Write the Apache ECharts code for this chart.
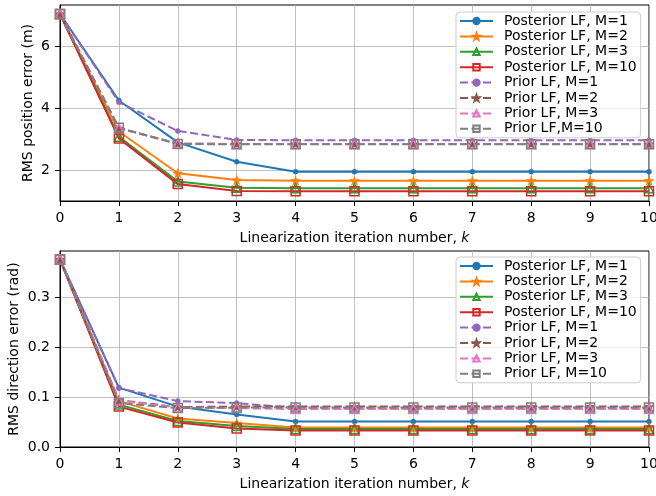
<!DOCTYPE html>
<html>
<head>
<meta charset="utf-8">
<script src="https://cdn.jsdelivr.net/npm/echarts@6/dist/echarts.min.js"></script>
<style>
  html, body { margin: 0; padding: 0; background: #fff; }
  #chart { width: 656px; height: 496px; }
</style>
</head>
<body>
<div id="chart"></div>
<script>
var iterK = [0, 1, 2, 3, 4, 5, 6, 7, 8, 9, 10];

// RMS position error (m)
var postM1Pos  = [7.03, 4.25, 2.90, 2.28, 1.96, 1.96, 1.96, 1.96, 1.96, 1.96, 1.96];
var postM2Pos  = [7.03, 3.25, 1.91, 1.69, 1.67, 1.67, 1.67, 1.67, 1.67, 1.67, 1.67];
var postM3Pos  = [7.03, 3.08, 1.64, 1.44, 1.43, 1.43, 1.43, 1.43, 1.43, 1.43, 1.43];
var postM10Pos = [7.03, 3.03, 1.56, 1.34, 1.33, 1.33, 1.33, 1.33, 1.33, 1.33, 1.33];
var priorM1Pos  = [7.03, 4.19, 3.27, 2.98, 2.97, 2.97, 2.97, 2.97, 2.97, 2.97, 2.97];
var priorM2Pos  = [7.03, 3.36, 2.86, 2.85, 2.85, 2.85, 2.85, 2.85, 2.85, 2.85, 2.85];
var priorM3Pos  = [7.03, 3.36, 2.86, 2.85, 2.85, 2.85, 2.85, 2.85, 2.85, 2.85, 2.85];
var priorM10Pos = [7.03, 3.37, 2.85, 2.84, 2.84, 2.84, 2.84, 2.84, 2.84, 2.84, 2.84];

// RMS direction error (rad)
var postM1Dir  = [0.376, 0.119, 0.081, 0.065, 0.051, 0.051, 0.051, 0.051, 0.051, 0.051, 0.051];
var postM2Dir  = [0.376, 0.092, 0.057, 0.048, 0.039, 0.039, 0.039, 0.039, 0.039, 0.039, 0.039];
var postM3Dir  = [0.376, 0.085, 0.052, 0.042, 0.036, 0.036, 0.036, 0.036, 0.036, 0.036, 0.036];
var postM10Dir = [0.376, 0.081, 0.049, 0.037, 0.033, 0.033, 0.033, 0.033, 0.033, 0.033, 0.033];
var priorM1Dir  = [0.376, 0.118, 0.092, 0.088, 0.078, 0.077, 0.077, 0.077, 0.077, 0.077, 0.077];
var priorM2Dir  = [0.376, 0.094, 0.080, 0.081, 0.081, 0.081, 0.081, 0.081, 0.081, 0.081, 0.081];
var priorM3Dir  = [0.376, 0.093, 0.079, 0.078, 0.076, 0.076, 0.076, 0.076, 0.076, 0.076, 0.076];
var priorM10Dir = [0.376, 0.088, 0.078, 0.079, 0.079, 0.079, 0.079, 0.079, 0.079, 0.079, 0.079];

var posTicks = [2, 4, 6];
var dirTicks = [0, 0.1, 0.2, 0.3];

var namesTop = ['Posterior LF, M=1', 'Posterior LF, M=2', 'Posterior LF, M=3', 'Posterior LF, M=10',
                'Prior LF, M=1', 'Prior LF, M=2', 'Prior LF, M=3', 'Prior LF,M=10'];
var namesBottom = ['Posterior LF, M=1', 'Posterior LF, M=2', 'Posterior LF, M=3', 'Posterior LF, M=10',
                   'Prior LF, M=1', 'Prior LF, M=2', 'Prior LF, M=3', 'Prior LF, M=10'];

var colors = ['#1f77b4', '#ff7f0e', '#2ca02c', '#d62728', '#9467bd', '#8c564b', '#e377c2', '#7f7f7f'];
var starPath = 'path://M0,-10 L2.35,-3.24 L9.51,-3.09 L3.8,1.24 L5.88,8.09 L0,4 L-5.88,8.09 L-3.8,1.24 L-9.51,-3.09 L-2.35,-3.24 Z';
// marker per series: [symbol, size, hollow]
var markers = [['circle', 5, false], [starPath, 10, false], ['triangle', 9, true], ['rect', 9, true],
               ['circle', 5, false], [starPath, 10, false], ['triangle', 9, true], ['rect', 9, true]];

var font = 'DejaVu Sans';
var fs = 14;

function makeSeries(names, dataList, axisIndex) {
    var out = [];
    for (var i = 0; i < dataList.length; i++) {
        var m = markers[i];
        var pts = [];
        for (var j = 0; j < iterK.length; j++) {
            pts.push([iterK[j], dataList[i][j]]);
        }
        out.push({
            name: names[i],
            type: 'line',
            xAxisIndex: axisIndex,
            yAxisIndex: axisIndex,
            data: pts,
            symbol: m[0],
            symbolSize: m[1],
            symbolKeepAspect: true,
            showAllSymbol: true,
            animation: false,
            lineStyle: {color: colors[i], width: 2, type: i < 4 ? 'solid' : [8, 3.5]},
            itemStyle: m[2] ? {color: 'rgba(255,255,255,0)', borderColor: colors[i], borderWidth: 1.5}
                            : {color: colors[i], borderColor: colors[i], borderWidth: 0.5}
        });
    }
    return out;
}

function makeLegend(names, top) {
    return {
        data: names,
        orient: 'vertical',
        left: 456,
        top: top,
        padding: [2, 4, 2, 3],
        itemGap: 1.4,
        itemWidth: 33,
        itemHeight: 8,
        backgroundColor: 'rgba(255,255,255,0.8)',
        borderColor: '#cccccc',
        borderWidth: 1,
        borderRadius: 4,
        selectedMode: false,
        textStyle: {fontFamily: font, fontSize: fs, color: '#000', lineHeight: 14, padding: [0, 0, 0, 6]}
    };
}

function xAxisCfg(gridIndex) {
    return {
        type: 'value', gridIndex: gridIndex, min: 0, max: 10, interval: 1,
        name: 'Linearization iteration number, {i|k}',
        nameLocation: 'middle', nameGap: 30, nameMoveOverlap: false,
        nameTextStyle: {fontFamily: font, fontSize: fs, color: '#000', rich: {i: {fontStyle: 'italic', fontFamily: font, fontSize: fs}}},
        axisLine: {show: true, lineStyle: {color: '#000', width: 1}},
        axisTick: {show: true, length: 5, lineStyle: {color: '#000'}},
        axisLabel: {fontFamily: font, fontSize: fs, color: '#000', margin: 10},
        splitLine: {show: true, lineStyle: {color: '#b0b0b0', width: 0.8}}
    };
}

function yAxisCfg(gridIndex, name, min, max, ticks, gap, digits) {
    return {
        type: 'value', gridIndex: gridIndex, min: min, max: max,
        name: name, nameLocation: 'middle', nameGap: gap, nameMoveOverlap: false,
        nameTextStyle: {fontFamily: font, fontSize: fs, color: '#000'},
        axisLine: {show: true, lineStyle: {color: '#000', width: 1}},
        axisTick: {show: true, length: 5, customValues: ticks, lineStyle: {color: '#000'}},
        axisLabel: {fontFamily: font, fontSize: fs, color: '#000', margin: 10, customValues: ticks,
                    formatter: function (v) { return v.toFixed(digits); }},
        splitLine: {show: true, lineStyle: {color: '#b0b0b0', width: 0.8}}
    };
}

var chart = echarts.init(document.getElementById('chart'), null, {renderer: 'canvas'});
var option = {
    backgroundColor: '#fff',
    animation: false,
    grid: [
        {left: 60, top: 5, width: 589, height: 196, show: true, borderColor: '#000', borderWidth: 1,
         backgroundColor: 'transparent', outerBoundsMode: 'none', containLabel: false},
        {left: 60, top: 251, width: 589, height: 196, show: true, borderColor: '#000', borderWidth: 1,
         backgroundColor: 'transparent', outerBoundsMode: 'none', containLabel: false}
    ],
    legend: [makeLegend(namesTop, 12), makeLegend(namesBottom, 257)],
    xAxis: [xAxisCfg(0), xAxisCfg(1)],
    yAxis: [
        yAxisCfg(0, 'RMS position error (m)', 1.016, 7.32, posTicks, 25, 0),
        yAxisCfg(1, 'RMS direction error (rad)', 0, 0.393, dirTicks, 39, 1)
    ],
    series: makeSeries(namesTop, [postM1Pos, postM2Pos, postM3Pos, postM10Pos, priorM1Pos, priorM2Pos, priorM3Pos, priorM10Pos], 0)
        .concat(makeSeries(namesBottom, [postM1Dir, postM2Dir, postM3Dir, postM10Dir, priorM1Dir, priorM2Dir, priorM3Dir, priorM10Dir], 1))
};
chart.setOption(option);
</script>
</body>
</html>
